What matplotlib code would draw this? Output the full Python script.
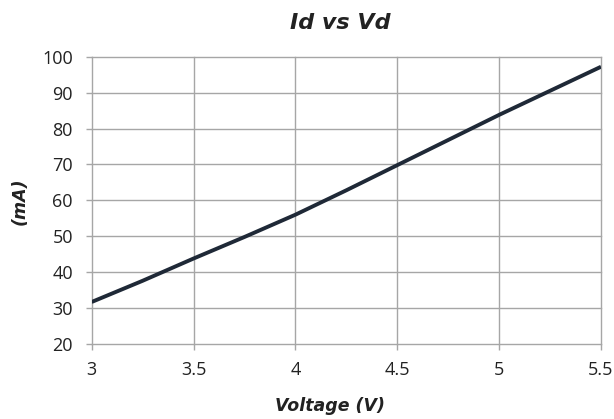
import matplotlib
matplotlib.use("Agg")
import matplotlib.pyplot as plt

voltage = [3.0, 3.25, 3.5, 3.75, 4.0, 4.25, 4.5, 4.75, 5.0, 5.25, 5.5]
current_ma = [31.7, 37.6, 43.8, 49.8, 56.0, 62.8, 69.8, 76.8, 83.8, 90.5, 97.2]

x_ticks = [3, 3.5, 4, 4.5, 5, 5.5]
x_labels = ["3", "3.5", "4", "4.5", "5", "5.5"]
y_ticks = [20, 30, 40, 50, 60, 70, 80, 90, 100]

plt.rcParams['font.family'] = ['Open Sans', 'DejaVu Sans']

W, H = 614, 419
fig = plt.figure(figsize=(W / 100, H / 100), dpi=100)
ax = fig.add_axes([0.1493, 0.179, 0.8295, 0.6857])

ax.plot(voltage, current_ma, color="#1f2937", linewidth=2.8, solid_capstyle="butt", zorder=3)

ax.set_xlim(3, 5.5)
ax.set_ylim(20, 100)
ax.set_xticks(x_ticks)
ax.set_xticklabels(x_labels)
ax.set_yticks(y_ticks)
ax.grid(True, color="#a6a6a6", linewidth=1.0)
for gl in ax.get_xgridlines() + ax.get_ygridlines():
    gl.set_clip_on(False)
for s in ax.spines.values():
    s.set_visible(False)
ax.tick_params(axis="both", length=4.5, width=1, color="#a6a6a6",
               labelsize=13, labelcolor="#222222")
ax.tick_params(axis="y", pad=9)
ax.tick_params(axis="x", pad=8)

title_font = dict(family=["DejaVu Sans"], weight="bold", style="italic", color="#222222",
                  ha="center", va="center")
fig.text(340 / W, 1 - 23 / H, "Id vs Vd", fontsize=16, **title_font)
fig.text(330 / W, 1 - 406 / H, "Voltage (V)", fontsize=12.5, **title_font)
fig.text(20 / W, 1 - 201 / H, "(mA)", fontsize=12.5, rotation=90, **title_font)

fig.savefig("out.png", dpi=100)
